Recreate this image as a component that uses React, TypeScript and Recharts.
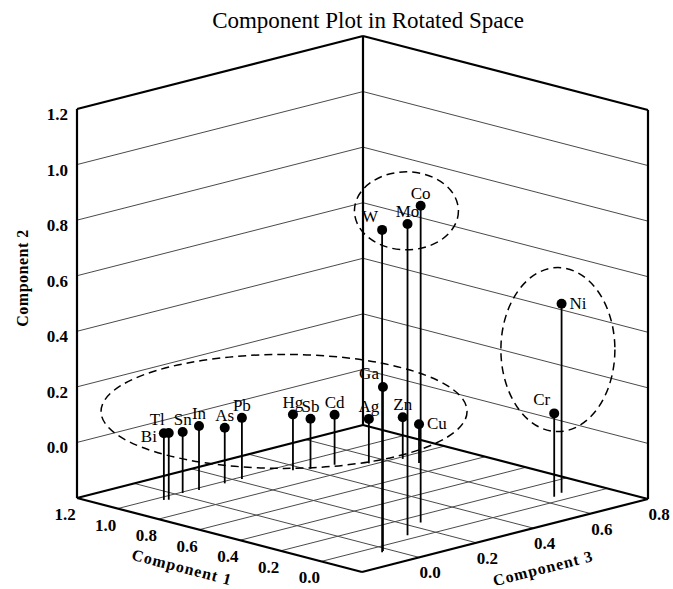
import React from 'react';
import { ScatterChart, Scatter, XAxis, YAxis } from 'recharts';

// ---------- data ----------
const elements = ['Bi', 'Tl', 'Sn', 'In', 'As', 'Pb', 'Hg', 'Sb', 'Cd', 'Ag', 'Ga', 'Zn', 'Cu', 'W', 'Mo', 'Co', 'Ni', 'Cr'];
const comp1 = [0.97, 0.96, 0.99, 0.98, 0.98, 0.98, 0.94, 0.91, 0.89, 0.82, -0.05, 0.78, 0.7, -0.06, 0.04, 0.13, 0.07, 0.05];
const comp2 = [0.04, 0.04, 0.02, 0.03, 0.0, 0.02, 0.0, -0.02, -0.02, -0.04, 0.39, -0.05, -0.06, 0.96, 0.92, 0.94, 0.48, 0.1];
const comp3 = [-0.06, -0.05, 0.02, 0.07, 0.16, 0.22, 0.37, 0.41, 0.48, 0.55, -0.02, 0.64, 0.64, -0.03, 0.13, 0.24, 0.69, 0.65];
const labelSide = ['left', 'upleft', 'top', 'top', 'top', 'top', 'top', 'top', 'top', 'top', 'upleft', 'top', 'right', 'upleft', 'top', 'top', 'right', 'upleft'];

const comp1Ticks = [1.2, 1.0, 0.8, 0.6, 0.4, 0.2, 0.0];
const comp2Ticks = [1.2, 1.0, 0.8, 0.6, 0.4, 0.2, 0.0];
const comp3Ticks = [0.0, 0.2, 0.4, 0.6, 0.8];
const comp1Grid = [0.0, 0.2, 0.4, 0.6, 0.8, 1.0];
const comp2Grid = [0.0, 0.2, 0.4, 0.6, 0.8, 1.0];
const comp3Grid = [0.0, 0.2, 0.4, 0.6];

const C1 = [-0.2, 1.2];
const C2 = [-0.2, 1.2];
const C3 = [-0.2, 0.8];

const clusters = [
  ['Bi', 'Tl', 'Sn', 'In', 'As', 'Pb', 'Hg', 'Sb', 'Cd', 'Ag', 'Ga', 'Zn', 'Cu'],
  ['W', 'Mo', 'Co'],
  ['Ni', 'Cr'],
];

// ---------- style / projection ----------
const LW = 285, RW = 286, LD = 74, RD = 73, H = 389;
const ellipseStyle = [
  { rx: 183, ry: 57, dx: 0, dy: -9 },
  { rx: 52, ry: 39, dx: 3, dy: -9 },
  { rx: 57, ry: 82, dx: 0, dy: -9 },
];
const FONT = '"Liberation Serif", "Times New Roman", serif';

function proj(c1: number, c2: number, c3: number) {
  const u = (c1 - C1[0]) / (C1[1] - C1[0]);
  const v = (c3 - C3[0]) / (C3[1] - C3[0]);
  const w = (c2 - C2[0]) / (C2[1] - C2[0]);
  return { x: v * RW - u * LW, y: w * H + u * LD + v * RD };
}

const gridSegs: any[] = [];
comp2Grid.forEach((g) => {
  gridSegs.push([proj(C1[1], g, C3[0]), proj(C1[1], g, C3[1])]);
  gridSegs.push([proj(C1[1], g, C3[1]), proj(C1[0], g, C3[1])]);
});
comp1Grid.forEach((g) => gridSegs.push([proj(g, C2[0], C3[0]), proj(g, C2[0], C3[1])]));
comp3Grid.forEach((g) => gridSegs.push([proj(C1[0], C2[0], g), proj(C1[1], C2[0], g)]));

const edgeSegs: any[] = [
  [proj(C1[0], C2[0], C3[0]), proj(C1[1], C2[0], C3[0])],
  [proj(C1[0], C2[0], C3[0]), proj(C1[0], C2[0], C3[1])],
  [proj(C1[1], C2[0], C3[0]), proj(C1[1], C2[0], C3[1])],
  [proj(C1[0], C2[0], C3[1]), proj(C1[1], C2[0], C3[1])],
  [proj(C1[1], C2[0], C3[0]), proj(C1[1], C2[1], C3[0])],
  [proj(C1[1], C2[0], C3[1]), proj(C1[1], C2[1], C3[1])],
  [proj(C1[0], C2[0], C3[1]), proj(C1[0], C2[1], C3[1])],
  [proj(C1[1], C2[1], C3[0]), proj(C1[1], C2[1], C3[1])],
  [proj(C1[1], C2[1], C3[1]), proj(C1[0], C2[1], C3[1])],
];

const dropSegs = elements.map((_, i) => [proj(comp1[i], comp2[i], comp3[i]), proj(comp1[i], C2[0], comp3[i])]);

const pointData = elements.map((name, i) => ({ ...proj(comp1[i], comp2[i], comp3[i]), name, side: labelSide[i] }));

const ellipseData = clusters.map((members, k) => {
  const pts = members.map((m) => pointData[elements.indexOf(m)]);
  const x = pts.reduce((s, p) => s + p.x, 0) / pts.length;
  const y = pts.reduce((s, p) => s + p.y, 0) / pts.length;
  return { x, y, k };
});

const tick2Data = comp2Ticks.map((t) => ({ ...proj(C1[1], t, C3[0]), label: t.toFixed(1) }));
const tick1Data = comp1Ticks.map((t) => ({ ...proj(t, C2[0], C3[0]), label: t.toFixed(1) }));
const tick3Data = comp3Ticks.map((t) => ({ ...proj(C1[0], C2[0], t), label: t.toFixed(1) }));

const Empty = () => <g />;

const PointShape = (p: any) => {
  const { cx, cy, payload } = p;
  let tx = cx, ty = cy - 13, anchor = 'middle';
  if (payload.side === 'left') { tx = cx - 7; ty = cy + 3; anchor = 'end'; }
  else if (payload.side === 'upleft') { tx = cx - 4; ty = cy - 14; anchor = 'end'; }
  else if (payload.side === 'right') { tx = cx + 8; ty = cy - 1; anchor = 'start'; }
  return (
    <g>
      <circle cx={cx} cy={cy} r={5} fill="#000" />
      <text x={tx} y={ty} dy="0.35em" textAnchor={anchor as any} fontFamily={FONT} fontSize={17} fill="#000">
        {payload.name}
      </text>
    </g>
  );
};

const EllipseShape = (p: any) => {
  const st = ellipseStyle[p.payload.k];
  return (
    <ellipse cx={p.cx + st.dx} cy={p.cy + st.dy} rx={st.rx} ry={st.ry} fill="none" stroke="#000"
      strokeWidth={1.5} strokeDasharray="8 5" />
  );
};

const makeTick = (dx: number, dy: number, anchor: string) => (p: any) => (
  <text x={p.cx + dx} y={p.cy + dy} dy="0.35em" textAnchor={anchor as any} fontFamily={FONT}
    fontSize={17} fontWeight="bold" fill="#000">
    {p.payload.label}
  </text>
);

export default function App() {
  return (
    <div style={{ position: 'absolute', left: 0, top: 0, width: 673, height: 589, background: '#fff' }}>
      <ScatterChart width={673} height={589} margin={{ top: 36, right: 25, bottom: 17, left: 77 }}>
        <XAxis type="number" dataKey="x" domain={[-LW, RW]} hide />
        <YAxis type="number" dataKey="y" domain={[0, H + LD + RD]} hide />
        {gridSegs.map((s, i) => (
          <Scatter key={'g' + i} data={s} line={{ stroke: '#4a4a4a', strokeWidth: 1 }} shape={Empty}
            isAnimationActive={false} legendType="none" />
        ))}
        {edgeSegs.map((s, i) => (
          <Scatter key={'e' + i} data={s} line={{ stroke: '#000', strokeWidth: 2.2 }} shape={Empty}
            isAnimationActive={false} legendType="none" />
        ))}
        {dropSegs.map((s, i) => (
          <Scatter key={'d' + i} data={s} line={{ stroke: '#000', strokeWidth: 1.8 }} shape={Empty}
            isAnimationActive={false} legendType="none" />
        ))}
        <Scatter data={pointData} shape={PointShape} isAnimationActive={false} legendType="none" />
        <Scatter data={ellipseData} shape={EllipseShape} isAnimationActive={false} legendType="none" />
        <Scatter data={tick2Data} shape={makeTick(-9, 5, 'end')} isAnimationActive={false} legendType="none" />
        <Scatter data={tick1Data} shape={makeTick(-12, 16, 'middle')} isAnimationActive={false} legendType="none" />
        <Scatter data={tick3Data} shape={makeTick(11, 15, 'middle')} isAnimationActive={false} legendType="none" />
      </ScatterChart>
      <svg width={673} height={589} style={{ position: 'absolute', left: 0, top: 0, pointerEvents: 'none' }}>
        <text x={368} y={28} textAnchor="middle" fontFamily={FONT} fontSize={23} fill="#000">
          Component Plot in Rotated Space
        </text>
        <text x={0} y={0} transform="translate(22,278) rotate(-90)" dy="0.35em" textAnchor="middle"
          fontFamily={FONT} fontSize={16} fontWeight="bold" letterSpacing={0.5} fill="#000">
          Component 2
        </text>
        <text x={0} y={0} transform="translate(182,567) rotate(14.6)" dy="0.35em" textAnchor="middle"
          fontFamily={FONT} fontSize={16} fontWeight="bold" letterSpacing={1} fill="#000">
          Component 1
        </text>
        <text x={0} y={0} transform="translate(543,568) rotate(-14.3)" dy="0.35em" textAnchor="middle"
          fontFamily={FONT} fontSize={16} fontWeight="bold" letterSpacing={1} fill="#000">
          Component 3
        </text>
      </svg>
    </div>
  );
}
